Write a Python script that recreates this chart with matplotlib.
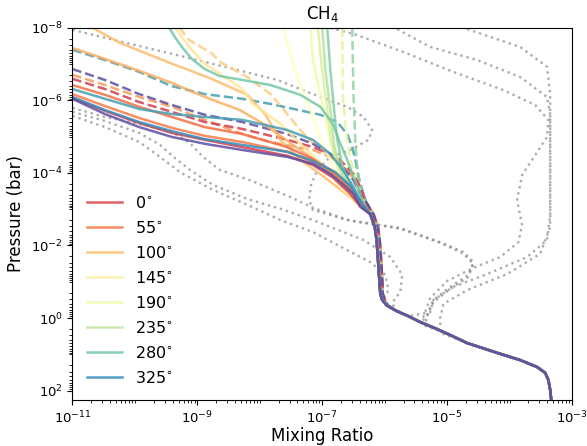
import numpy as np
import matplotlib
matplotlib.use('Agg')
import matplotlib.pyplot as plt
from matplotlib.ticker import LogLocator, NullFormatter

# CH4 mixing ratio profiles, values are log10(mixing ratio) / log10(pressure in bar)
longitudes = ['0', '55', '100', '145', '190', '235', '280', '325']
legend_cpos = [0.111, 0.222, 0.333, 0.444, 0.556, 0.667, 0.778, 0.889]

# deep part, all longitudes collapse onto it
deep_lp = [-3.25, -2.86, -2.51, -2.15, -1.41, -0.66, -0.50, -0.35, -0.20, -0.05, 0.12, 0.30, 0.47, 0.69, 0.96, 1.16,
           1.35, 1.51, 1.70, 1.98, 2.3]
deep_lx = [-6.34, -6.23, -6.16, -6.13, -6.10, -6.07, -6.04, -5.97, -5.82, -5.62, -5.42, -5.17, -4.95, -4.68, -4.20, -3.83,
           -3.56, -3.43, -3.38, -3.35, -3.33]
deep_dash_lx = [-6.29, -6.18, -6.11, -6.08, -6.05, -6.03, -6.00, -5.95, -5.81, -5.62, -5.42, -5.17, -4.95, -4.68, -4.20,
                -3.83, -3.56, -3.43, -3.38, -3.35, -3.33]

# solid profiles (upper atmosphere)
purple_lx = [-11.0, -10.48, -9.93, -9.41, -8.88, -8.28, -7.56, -7.15, -6.87, -6.67, -6.50, -6.39]
purple_lp = [-6.04, -5.62, -5.26, -4.99, -4.80, -4.63, -4.44, -4.25, -3.97, -3.69, -3.42, -3.06]
blue_lx = [-11.0, -10.48, -9.93, -9.41, -8.88, -8.28, -7.56, -7.15, -6.79, -6.55, -6.36]
blue_lp = [-6.09, -5.73, -5.40, -5.15, -4.93, -4.77, -4.58, -4.33, -4.02, -3.64, -3.14]
red_lx = [-11.0, -10.48, -9.93, -9.41, -8.88, -8.28, -7.56, -7.15, -6.82, -6.58, -6.39]
red_lp = [-6.06, -5.71, -5.37, -5.10, -4.91, -4.71, -4.47, -4.22, -3.86, -3.47, -3.09]
redor_lx = [-11.0, -10.48, -9.93, -9.41, -8.88, -8.28, -7.56, -7.15, -6.79, -6.55, -6.39]
redor_lp = [-6.17, -5.84, -5.51, -5.24, -5.02, -4.85, -4.58, -4.30, -3.91, -3.53, -3.14]
teal_lx = [-11.0, -10.48, -9.93, -9.41, -8.88, -8.28, -7.56, -7.15, -6.87, -6.67, -6.50, -6.36]
teal_lp = [-6.31, -6.04, -5.76, -5.62, -5.54, -5.46, -5.18, -4.91, -4.52, -4.08, -3.61, -3.14]
redor2_lx = [-11.0, -10.48, -9.93, -9.41, -8.88, -8.28, -7.56, -7.15, -6.87, -6.60, -6.44]
redor2_lp = [-6.42, -6.15, -5.82, -5.54, -5.26, -5.07, -4.71, -4.38, -4.08, -3.69, -3.34]
orange_lx = [-11.0, -10.48, -9.93, -9.41, -8.88, -8.32, -7.91, -7.47, -7.12, -6.76, -6.52, -6.36]
orange_lp = [-7.44, -7.14, -6.81, -6.48, -6.09, -5.73, -5.32, -4.77, -4.36, -3.94, -3.53, -3.12]
orange2_lx = [-10.67, -10.24, -9.44, -8.80, -8.20, -7.91, -7.67, -7.35, -6.95, -6.60, -6.36]
orange2_lp = [-7.99, -7.58, -7.03, -6.61, -6.15, -5.60, -4.91, -4.36, -3.86, -3.39, -3.06]
green_lx = [-9.45, -9.36, -9.25, -9.09, -8.88, -8.65, -8.28, -7.83, -7.35, -7.03, -6.82, -6.71, -6.60, -6.50, -6.39, -6.34]
green_lp = [-8.0, -7.74, -7.47, -7.14, -6.86, -6.67, -6.56, -6.42, -6.15, -5.82, -5.32, -4.80, -4.36, -3.89, -3.42, -3.14]
paleor_lx = [-9.36, -9.13, -8.88, -8.49, -8.28, -8.11, -7.67, -7.35, -7.08, -6.87, -6.67, -6.44]
paleor_lp = [-8.0, -7.47, -7.0, -6.56, -6.31, -5.90, -5.35, -4.80, -4.36, -3.97, -3.53, -3.14]
yel1_lx = [-7.64, -7.56, -7.40, -7.19, -6.99, -6.82, -6.67, -6.47, -6.36]
yel1_lp = [-8.0, -7.55, -6.64, -5.73, -4.80, -4.16, -3.69, -3.25, -3.06]
yel2_lx = [-7.19, -7.15, -7.03, -6.92, -6.82, -6.71, -6.55, -6.39]
yel2_lp = [-8.0, -7.11, -6.17, -5.26, -4.52, -3.94, -3.47, -3.12]
ygreen_lx = [-7.07, -7.02, -6.94, -6.86, -6.76, -6.60, -6.42]
ygreen_lp = [-8.0, -7.11, -6.01, -4.91, -4.22, -3.67, -3.20]
lgreen_lx = [-7.0, -6.95, -6.87, -6.81, -6.71, -6.55, -6.39]
lgreen_lp = [-8.0, -6.83, -5.73, -4.77, -4.08, -3.58, -3.14]
green2_lx = [-6.92, -6.87, -6.81, -6.76, -6.67, -6.52, -6.36]
green2_lp = [-8.0, -6.83, -5.73, -4.91, -4.14, -3.58, -3.12]

# dashed profiles
d_teal_lx = [-11.0, -10.48, -9.93, -9.41, -8.88, -8.28, -7.83, -7.03, -6.76, -6.60, -6.52, -6.47, -6.42, -6.34, -6.28]
d_teal_lp = [-7.39, -7.11, -6.78, -6.39, -6.17, -6.04, -5.90, -5.60, -5.40, -5.07, -4.71, -4.36, -3.89, -3.42, -3.12]
d_purple_lx = [-11.0, -10.48, -9.93, -9.41, -8.88, -8.28, -7.56, -7.15, -6.87, -6.67, -6.50, -6.39, -6.28]
d_purple_lp = [-6.86, -6.56, -6.17, -5.87, -5.60, -5.40, -5.07, -4.80, -4.52, -4.16, -3.80, -3.42, -3.14]
d_orange_lx = [-11.0, -10.48, -9.93, -9.41, -8.88, -8.28, -7.83, -7.15, -6.76, -6.55, -6.44, -6.34, -6.28]
d_orange_lp = [-6.70, -6.42, -6.09, -5.82, -5.46, -5.07, -4.85, -4.63, -4.36, -3.97, -3.61, -3.25, -3.09]
d_red_lx = [-11.0, -10.48, -9.93, -9.41, -8.88, -8.28, -7.56, -7.15, -6.76, -6.50, -6.39, -6.29]
d_red_lp = [-6.59, -6.31, -5.95, -5.68, -5.40, -5.21, -4.91, -4.71, -4.44, -3.97, -3.61, -3.17]
d_paleor_lx = [-9.29, -9.13, -8.76, -8.64, -8.20, -7.83, -7.56, -7.35, -7.15, -6.87, -6.60, -6.44, -6.34]
d_paleor_lp = [-8.0, -7.66, -7.28, -7.06, -6.64, -6.17, -5.62, -5.18, -4.80, -4.44, -4.08, -3.69, -3.25]
d_ygreen_lx = [-6.68, -6.67, -6.63, -6.55, -6.44, -6.36, -6.29]
d_ygreen_lp = [-8.0, -6.17, -5.26, -4.36, -3.80, -3.39, -3.12]
d_green_lx = [-6.52, -6.50, -6.47, -6.44, -6.39, -6.29]
d_green_lp = [-8.0, -6.17, -4.80, -4.16, -3.61, -3.17]

# grey dotted reference profiles
g1_lx = [-11.0, -10.21, -9.41, -8.60, -7.72, -7.03, -6.60, -6.34, -6.20, -6.26, -6.55, -6.87, -7.08, -7.18, -7.21, -7.15,
         -6.60, -5.75, -5.11, -4.74, -4.58, -4.66, -4.95, -5.22, -5.32, -5.35]
g1_lp = [-7.94, -7.61, -7.28, -6.94, -6.56, -6.09, -5.82, -5.54, -5.18, -4.91, -4.63, -4.44, -4.08, -3.67, -3.25, -2.98,
         -2.70, -2.48, -2.09, -1.82, -1.54, -1.19, -0.86, -0.50, -0.09, 0.22]
l1_lx = [-11.0, -10.48, -9.93, -9.60, -9.36, -9.12, -8.75, -8.20, -7.67, -7.15, -6.34, -5.91, -5.72, -5.75, -5.88]
l1_lp = [-5.68, -5.43, -5.10, -4.77, -4.41, -4.08, -3.67, -3.28, -3.01, -2.70, -2.15, -1.68, -1.19, -0.72, -0.42]
l2_lx = [-11.0, -10.48, -9.93, -9.60, -9.28, -8.75, -8.20, -7.67, -7.15, -6.60, -6.23, -5.99, -5.94, -6.02]
l2_lp = [-5.57, -5.26, -4.85, -4.44, -4.02, -3.53, -3.12, -2.70, -2.37, -1.87, -1.54, -1.19, -0.77, -0.50]
l3_lx = [-11.0, -10.48, -9.93, -9.41, -9.12, -8.91, -8.64, -8.16, -7.52, -7.15, -6.55, -5.75, -5.11, -4.74, -4.58, -4.66,
         -4.95, -5.22, -5.32]
l3_lp = [-5.79, -5.54, -5.35, -5.13, -4.82, -4.44, -4.08, -3.80, -3.34, -3.04, -2.68, -2.46, -2.07, -1.77, -1.49, -1.13,
         -0.80, -0.44, -0.05]
ra_lx = [-5.80, -5.27, -4.52, -3.83, -3.40, -3.35, -3.35, -3.35, -3.40, -3.72, -4.36, -4.90, -5.22, -5.27]
ra_lp = [-7.96, -7.47, -7.11, -6.64, -6.09, -5.62, -4.36, -2.87, -2.15, -1.68, -1.21, -0.86, -0.50, -0.16]
rb_lx = [-4.68, -3.83, -3.40, -3.35, -3.35, -3.35, -3.35, -3.51, -4.04, -4.68, -5.06, -5.11, -5.11]
rb_lp = [-7.96, -7.47, -6.92, -6.17, -5.26, -3.42, -2.51, -1.77, -1.21, -0.77, -0.39, 0.0, 0.41]
rc_lx = [-6.87, -6.50, -5.70, -4.90, -4.10, -3.59, -3.38, -3.40, -3.59, -3.80, -3.88, -3.80, -3.86, -4.15, -4.58, -5.00,
         -5.27, -5.38]
rc_lp = [-7.99, -7.83, -7.33, -6.78, -6.28, -5.87, -5.46, -4.99, -4.49, -3.94, -3.25, -2.56, -2.09, -1.68, -1.38, -1.02,
         -0.55, -0.03]


def join(lx, lp, dlx):
    # hang the upper profile onto the deep one
    lx = list(lx)
    lp = list(lp)
    for x, p in zip(dlx, deep_lp):
        if p > lp[-1] + 0.1:
            lx.append(x)
            lp.append(p)
    return 10 ** np.array(lx), 10 ** np.array(lp)


cmap = plt.cm.Spectral

dotted = [(g1_lx, g1_lp), (l1_lx, l1_lp), (l2_lx, l2_lp), (l3_lx, l3_lp),
          (ra_lx, ra_lp), (rb_lx, rb_lp), (rc_lx, rc_lp)]
dashed = [(d_teal_lx, d_teal_lp, 0.86), (d_paleor_lx, d_paleor_lp, 0.36), (d_ygreen_lx, d_ygreen_lp, 0.6),
          (d_green_lx, d_green_lp, 0.74), (d_orange_lx, d_orange_lp, 0.27), (d_red_lx, d_red_lp, 0.1),
          (d_purple_lx, d_purple_lp, 1.0)]
solid = [(orange2_lx, orange2_lp, 0.33), (orange_lx, orange_lp, 0.3), (paleor_lx, paleor_lp, 0.42),
         (yel1_lx, yel1_lp, 0.5), (yel2_lx, yel2_lp, 0.55), (ygreen_lx, ygreen_lp, 0.62),
         (lgreen_lx, lgreen_lp, 0.68), (green2_lx, green2_lp, 0.75), (green_lx, green_lp, 0.78),
         (redor2_lx, redor2_lp, 0.2), (teal_lx, teal_lp, 0.86), (redor_lx, redor_lp, 0.22),
         (red_lx, red_lp, 0.1), (blue_lx, blue_lp, 0.889), (purple_lx, purple_lp, 1.0)]

fig = plt.figure(figsize=(5.87, 4.46), dpi=100)
ax = fig.add_axes([0.1235, 0.1031, 0.851, 0.8348])

for lx, lp in dotted:
    x, p = join(lx, lp, deep_lx)
    ax.plot(x, p, ':', color='grey', alpha=0.65, lw=1.7)

for lx, lp, c in dashed:
    x, p = join(lx, lp, deep_dash_lx)
    ax.plot(x, p, '--', color=cmap(c), alpha=0.85, lw=1.8)

for lx, lp, c in solid:
    x, p = join(lx, lp, deep_lx)
    ax.plot(x, p, '-', color=cmap(c), alpha=0.85, lw=1.8)

# legend entries
for lon, c in zip(longitudes, legend_cpos):
    ax.plot([], [], '-', color=cmap(c), alpha=0.85, lw=1.8, label=lon + r'$^{\circ}$')

ax.set_xscale('log')
ax.set_yscale('log')
ax.set_xlim(1e-11, 1e-3)
ax.set_ylim(10 ** 2.26, 1e-8)
ax.set_xticks([1e-11, 1e-9, 1e-7, 1e-5, 1e-3])
ax.set_yticks([1e-8, 1e-6, 1e-4, 1e-2, 1e0, 1e2])
ax.xaxis.set_minor_locator(LogLocator(base=10, subs=np.arange(1, 10), numticks=100))
ax.yaxis.set_minor_locator(LogLocator(base=10, subs=np.arange(1, 10), numticks=100))
ax.xaxis.set_minor_formatter(NullFormatter())
ax.yaxis.set_minor_formatter(NullFormatter())
ax.tick_params(axis='both', which='major', labelsize=9.5)

ax.set_xlabel('Mixing Ratio', fontsize=12, labelpad=0.5)
ax.set_ylabel('Pressure (bar)', fontsize=12)
ax.set_title('CH$_4$', fontsize=12)
ax.legend(loc='lower left', frameon=False, fontsize=11.5, handlelength=2.2, labelspacing=0.56)

fig.savefig('out.png', dpi=100)
